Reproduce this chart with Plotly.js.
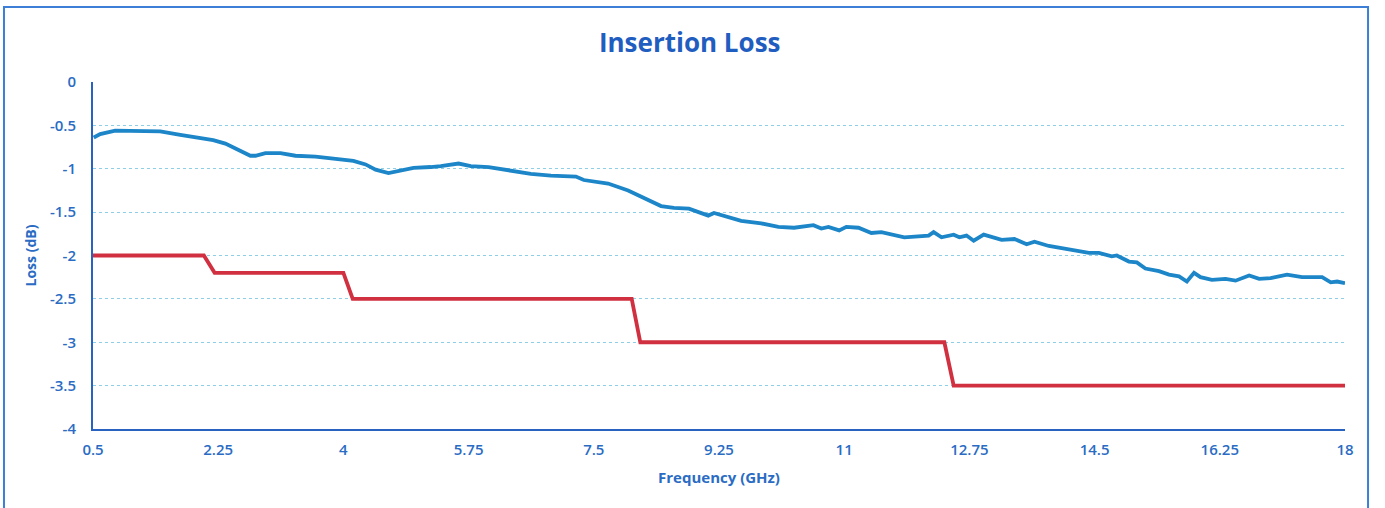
<!DOCTYPE html>
<html>
<head>
<meta charset="utf-8">
<script src="https://cdn.plot.ly/plotly-3.0.1.min.js"></script>
<style>
  html, body { margin: 0; padding: 0; background: #ffffff; }
  #chart { width: 1385px; height: 508px; }
</style>
</head>
<body>
<div id="chart"></div>
<script>
// Measured insertion loss (blue)
const measuredFreq = [0.51, 0.6, 0.81, 1.16, 1.44, 1.72, 2.0, 2.18, 2.35, 2.52, 2.7, 2.77, 2.91, 3.12, 3.33, 3.61, 3.96, 4.14, 4.31, 4.45, 4.63, 4.8, 4.98, 5.22, 5.36, 5.61, 5.78, 6.03, 6.2, 6.62, 6.9, 7.25, 7.36, 7.7, 7.98, 8.2, 8.44, 8.62, 8.83, 9.1, 9.18, 9.56, 9.84, 10.08, 10.3, 10.57, 10.68, 10.78, 10.93, 11.03, 11.2, 11.38, 11.52, 11.84, 12.18, 12.25, 12.36, 12.53, 12.61, 12.71, 12.81, 12.95, 13.2, 13.38, 13.55, 13.66, 13.86, 14.08, 14.42, 14.56, 14.74, 14.81, 14.98, 15.09, 15.21, 15.4, 15.54, 15.68, 15.79, 15.89, 15.98, 16.14, 16.33, 16.47, 16.66, 16.8, 16.96, 17.19, 17.4, 17.68, 17.8, 17.89, 18.0];
const measuredLoss = [-0.64, -0.6, -0.56, -0.56, -0.57, -0.61, -0.64, -0.67, -0.71, -0.78, -0.85, -0.85, -0.82, -0.82, -0.85, -0.86, -0.89, -0.91, -0.95, -1.01, -1.05, -1.02, -0.99, -0.98, -0.97, -0.94, -0.97, -0.98, -1.0, -1.06, -1.08, -1.09, -1.13, -1.17, -1.25, -1.34, -1.43, -1.45, -1.46, -1.54, -1.51, -1.6, -1.63, -1.67, -1.68, -1.65, -1.69, -1.67, -1.71, -1.67, -1.68, -1.74, -1.73, -1.79, -1.77, -1.73, -1.79, -1.76, -1.79, -1.77, -1.83, -1.76, -1.82, -1.81, -1.87, -1.84, -1.89, -1.92, -1.97, -1.97, -2.01, -2.0, -2.07, -2.08, -2.15, -2.18, -2.22, -2.24, -2.3, -2.2, -2.25, -2.28, -2.27, -2.29, -2.23, -2.27, -2.26, -2.22, -2.25, -2.25, -2.31, -2.3, -2.32];

// Specification limit (red)
const limitFreq = [0.5, 2.05, 2.2, 4.0, 4.13, 8.03, 8.15, 12.4, 12.53, 18.0];
const limitLoss = [-2.0, -2.0, -2.2, -2.2, -2.5, -2.5, -3.0, -3.0, -3.5, -3.5];

// Axis ticks
const xTickVals = [0.5, 2.25, 4, 5.75, 7.5, 9.25, 11, 12.75, 14.5, 16.25, 18];
const xTickText = ['0.5', '2.25', '4', '5.75', '7.5', '9.25', '11', '12.75', '14.5', '16.25', '18'];
const yTickVals = [0, -0.5, -1, -1.5, -2, -2.5, -3, -3.5, -4];
const yTickText = ['0', '-0.5', '-1', '-1.5', '-2', '-2.5', '-3', '-3.5', '-4'];

const FONT = '"Open Sans", Lato, sans-serif';
const TEXT_BLUE = '#2a6cc4';

const traces = [
  {
    x: limitFreq, y: limitLoss, type: 'scatter', mode: 'lines',
    line: { color: '#d0303f', width: 3.8 }, hoverinfo: 'x+y', name: 'Limit'
  },
  {
    x: measuredFreq, y: measuredLoss, type: 'scatter', mode: 'lines',
    line: { color: '#1c86c8', width: 3.8 }, hoverinfo: 'x+y', name: 'Insertion Loss'
  }
];

const layout = {
  width: 1385, height: 508,
  margin: { l: 93, r: 40, t: 82, b: 79 },
  paper_bgcolor: '#ffffff', plot_bgcolor: '#ffffff',
  showlegend: false,
  font: { family: FONT, color: TEXT_BLUE, size: 14, weight: 600 },
  title: {
    text: 'Insertion Loss',
    font: { family: FONT, size: 26, color: '#1f5ec0', weight: 700 },
    x: 0.498, xanchor: 'center', y: 0.915, yanchor: 'middle'
  },
  xaxis: {
    range: [0.5, 18],
    tickmode: 'array', tickvals: xTickVals, ticktext: xTickText,
    showgrid: false, zeroline: false,
    showline: true, linecolor: '#2a62c0', linewidth: 2,
    ticks: '', ticklabelstandoff: 6,
    tickfont: { family: FONT, size: 15, color: TEXT_BLUE, weight: 600 },
    title: { text: 'Frequency (GHz)', font: { family: FONT, size: 15, color: TEXT_BLUE, weight: 700 }, standoff: 14 }
  },
  yaxis: {
    range: [-4, 0],
    tickmode: 'array', tickvals: yTickVals, ticktext: yTickText,
    showgrid: true, gridcolor: '#8ccfe6', griddash: 'dot', gridwidth: 1,
    zeroline: false,
    showline: true, linecolor: '#2a62c0', linewidth: 2,
    ticks: '', ticklabelstandoff: 12,
    tickfont: { family: FONT, size: 15, color: TEXT_BLUE, weight: 600 },
    title: { text: 'Loss (dB)', font: { family: FONT, size: 14, color: TEXT_BLUE, weight: 700 }, standoff: 10 }
  },
  shapes: [
    {
      type: 'rect', xref: 'paper', yref: 'paper',
      x0: -0.0711, x1: 1.0184, y0: -0.25, y1: 1.216,
      line: { color: '#3d7fd6', width: 2 }, fillcolor: 'rgba(0,0,0,0)', layer: 'below'
    }
  ]
};

Plotly.newPlot('chart', traces, layout, { displayModeBar: false, staticPlot: true });
</script>
</body>
</html>
